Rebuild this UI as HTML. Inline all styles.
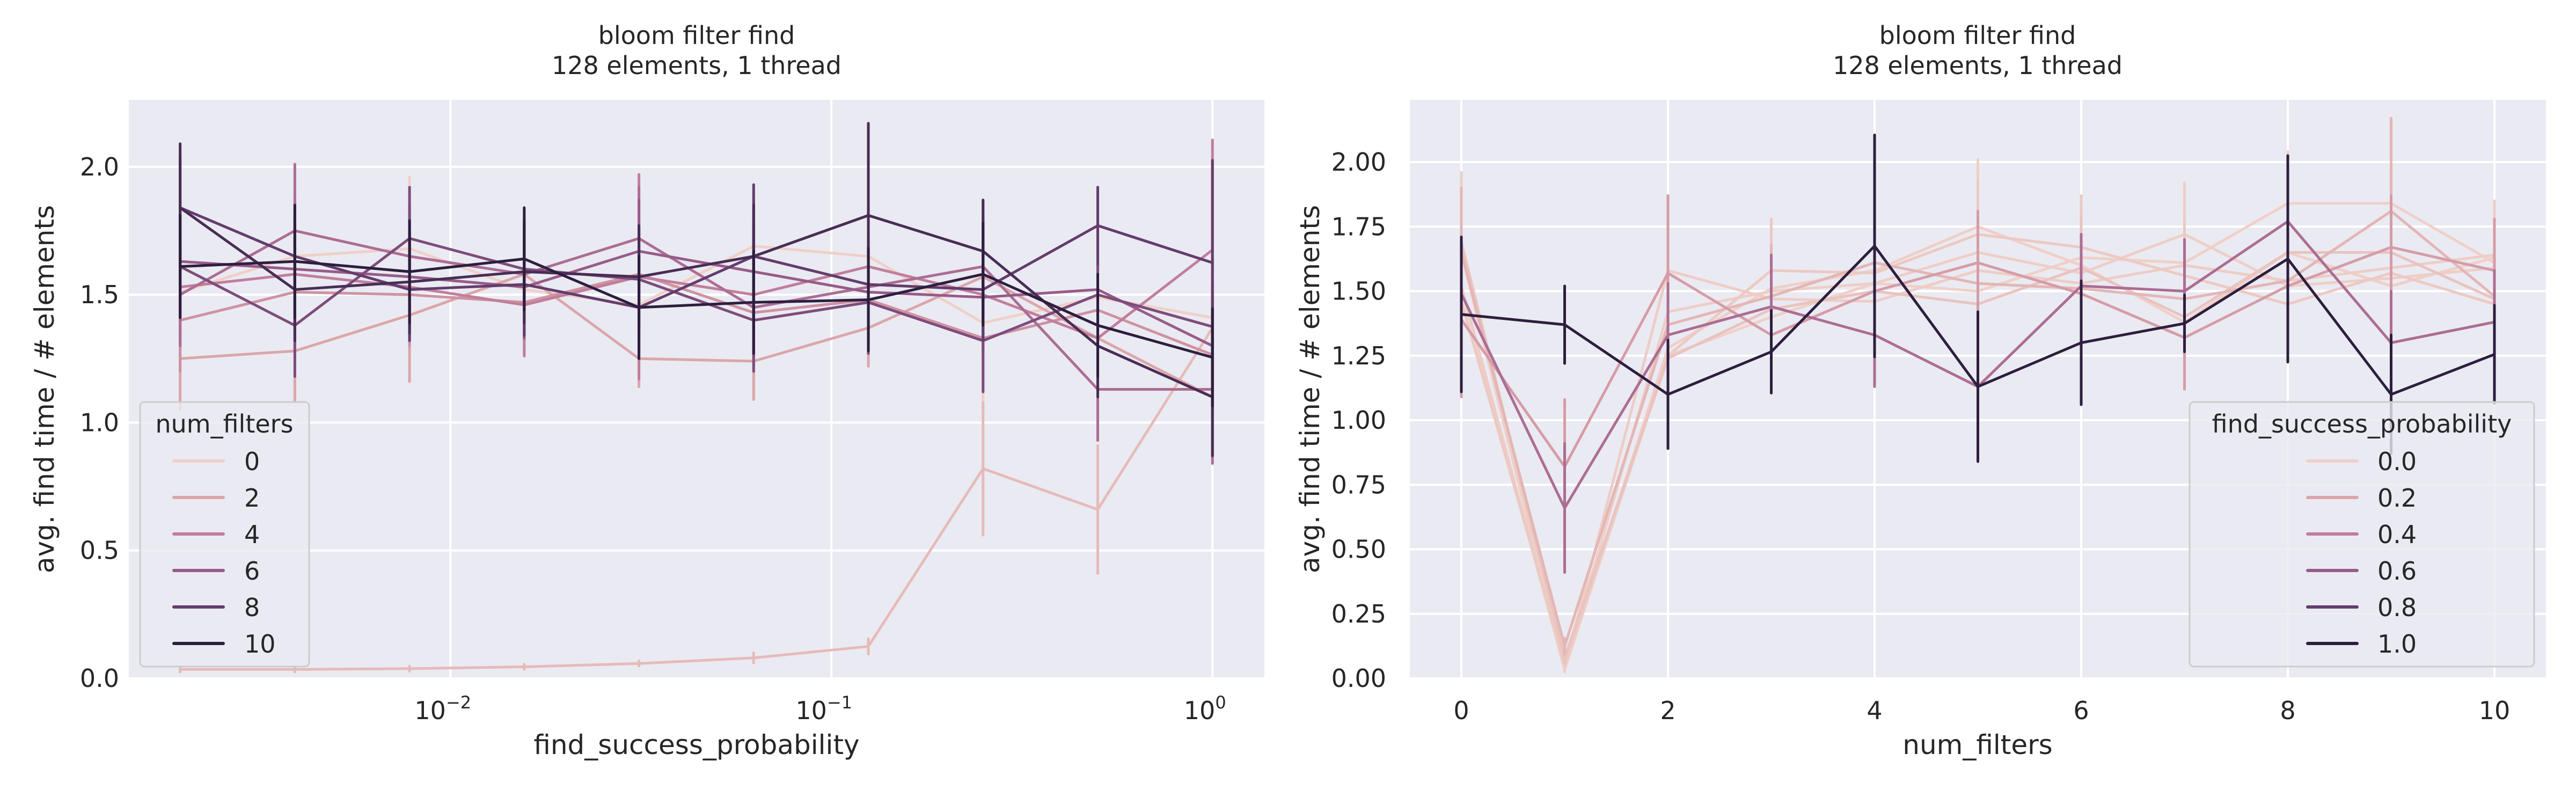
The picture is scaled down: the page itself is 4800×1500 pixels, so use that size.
<!DOCTYPE html>
<html><head><meta charset="utf-8">
<style>
html,body{margin:0;padding:0;background:#fff;}
svg{display:block;font-family:"DejaVu Sans","Liberation Sans",sans-serif;}
</style></head>
<body>
<svg id="fig" xmlns="http://www.w3.org/2000/svg" width="4800" height="1500" viewBox="0 0 4800 1500"></svg>
<script>
// ---- data: rows = num_filters 0..10, columns = find_success_probability 2^-9 .. 2^0
const numFilters = [0,1,2,3,4,5,6,7,8,9,10];
const probabilities = [1/512,1/256,1/128,1/64,1/32,1/16,1/8,1/4,1/2,1];
const probLegend = ["0.0","0.2","0.4","0.6","0.8","1.0"];
const nfLegend = ["0","2","4","6","8","10"];
const series0 = [1.51,1.65,1.68,1.52,1.46,1.69,1.65,1.39,1.49,1.41];
const series1 = [0.035,0.035,0.038,0.045,0.058,0.08,0.125,0.82,0.66,1.37];
const series2 = [1.25,1.28,1.42,1.58,1.25,1.24,1.37,1.57,1.33,1.10];
const series3 = [1.40,1.51,1.50,1.47,1.58,1.43,1.48,1.33,1.44,1.265];
const series4 = [1.53,1.58,1.53,1.46,1.57,1.50,1.61,1.50,1.33,1.675];
const series5 = [1.50,1.75,1.65,1.58,1.72,1.45,1.53,1.61,1.13,1.13];
const series6 = [1.63,1.60,1.57,1.53,1.67,1.59,1.51,1.49,1.52,1.30];
const series7 = [1.61,1.38,1.72,1.60,1.56,1.40,1.47,1.32,1.50,1.375];
const series8 = [1.84,1.65,1.52,1.54,1.45,1.65,1.54,1.52,1.77,1.625];
const series9 = [1.84,1.52,1.55,1.59,1.57,1.65,1.81,1.67,1.30,1.10];
const series10 = [1.61,1.63,1.59,1.64,1.45,1.47,1.48,1.58,1.38,1.255];
const err0 = [0.25,0.2,0.28,0.2,0.2,0.2,0.25,0.3,0.2,0.3];
const err1 = [0.01,0.01,0.01,0.01,0.01,0.02,0.03,0.26,0.25,0.15];
const err2 = [0.2,0.2,0.26,0.2,0.11,0.15,0.15,0.3,0.2,0.21];
const err3 = [0.2,0.2,0.2,0.2,0.2,0.2,0.2,0.2,0.2,0.16];
const err4 = [0.2,0.3,0.2,0.2,0.4,0.2,0.25,0.2,0.2,0.43];
const err5 = [0.2,0.26,0.2,0.2,0.2,0.2,0.2,0.2,0.2,0.29];
const err6 = [0.2,0.2,0.2,0.2,0.2,0.2,0.2,0.2,0.2,0.24];
const err7 = [0.2,0.2,0.2,0.2,0.2,0.2,0.2,0.2,0.2,0.11];
const err8 = [0.2,0.2,0.2,0.2,0.2,0.28,0.2,0.2,0.15,0.40];
const err9 = [0.25,0.2,0.2,0.2,0.2,0.2,0.36,0.2,0.2,0.23];
const err10 = [0.2,0.22,0.2,0.2,0.2,0.2,0.2,0.2,0.2,0.19];
const values = [series0,series1,series2,series3,series4,series5,series6,series7,series8,series9,series10];
const errors = [err0,err1,err2,err3,err4,err5,err6,err7,err8,err9,err10];
const yTicksLeft = [0,0.5,1.0,1.5,2.0];
const yTicksRight = [0,0.25,0.5,0.75,1.0,1.25,1.5,1.75,2.0];
const xTicksRight = [0,2,4,6,8,10];
const xTicksLeftExp = [-2,-1,0];

const NS="http://www.w3.org/2000/svg";
const svg=document.getElementById('fig');
function el(tag,attrs,parent){const e=document.createElementNS(NS,tag);for(const k in attrs)e.setAttribute(k,attrs[k]);(parent||svg).appendChild(e);return e;}
const stops=[[0xef,0xd0,0xc8],[0xdb,0xa6,0xaa],[0xc1,0x7e,0x9c],[0x97,0x5b,0x89],[0x63,0x3c,0x6c],[0x2d,0x1e,0x3e]];
function cmap(t){t=Math.max(0,Math.min(1,t))*5;const i=Math.min(4,Math.floor(t)),f=t-i;const a=stops[i],b=stops[i+1];
 return 'rgb('+a.map((v,k)=>Math.round(v+(b[k]-v)*f)).join(',')+')';}

// ---- axes geometry
const L={x0:240,x1:2356,y0:186,y1:1264};
const R={x0:2627,x1:4744,y0:186,y1:1264};
const lx=p=>240+(Math.log10(p)+2.844)*710;
const ly=v=>1264-v*476.6;
const rx=n=>2723+n*192.5;
const ry=v=>1264-v*481;

function axes(A,name){
 const g=el('g',{});
 
 
 el('rect',{x:A.x0,y:A.y0,width:A.x1-A.x0,height:A.y1-A.y0,fill:'#eaeaf2'},g);
 return g;
}
function text(g,x,y,s,size,anchor,name,extra){
 const t=el('text',Object.assign({x:x,y:y,'font-size':size,fill:'#262626','text-anchor':anchor||'middle'},extra||{}),g);
 t.textContent=s;
 
 
 return t;
}

// ===== LEFT =====
const gl=axes(L,'left-plot');
const glg=el('g',{},gl);


yTicksLeft.forEach(v=>{el('line',{x1:L.x0,x2:L.x1,y1:ly(v),y2:ly(v),stroke:'#fff','stroke-width':4},glg);
 text(gl,222,ly(v)+16,v.toFixed(1),46,'end','left-y-tick-label');});
xTicksLeftExp.forEach(e=>{const x=lx(Math.pow(10,e));el('line',{x1:x,x2:x,y1:L.y0,y2:L.y1,stroke:'#fff','stroke-width':4},glg);
 const t=text(gl,x-14,1340,'10',46,'middle','left-x-tick-label');
 const s=el('tspan',{dy:-20,'font-size':32},t);s.textContent=(e<0?'\u2212':'')+Math.abs(e);});
const lclip=el('clipPath',{id:'lc'});el('rect',{x:L.x0,y:L.y0,width:L.x1-L.x0,height:L.y1-L.y0},lclip);
const ld=el('g',{'clip-path':'url(#lc)'},gl);
numFilters.forEach((n,i)=>{
 const c=cmap(n/10);
 const sg=el('g',{},ld);
 
 
 el('polyline',{points:probabilities.map((p,j)=>lx(p)+','+ly(values[i][j])).join(' '),fill:'none',stroke:c,'stroke-width':5,'stroke-linejoin':'round','stroke-linecap':'round'},sg);
 probabilities.forEach((p,j)=>{const e=errors[i][j];
  const b=el('line',{x1:lx(p),x2:lx(p),y1:ly(values[i][j]-e),y2:ly(values[i][j]+e),stroke:c,'stroke-width':5,'stroke-linecap':'round'},sg);
  
  });
});
text(gl,1298,82,'bloom filter find',46,'middle','left-title-line1');
text(gl,1298,138,'128 elements, 1 thread',46,'middle','left-title-line2');
text(gl,1298,1405,'find_success_probability',50,'middle','left-x-axis-title');
text(gl,0,0,'avg. find time / # elements',50,'middle','left-y-axis-title',{transform:'translate(100,725) rotate(-90)'});
// legend left
const lleg=el('g',{},gl);


el('rect',{x:261,y:749,width:315,height:493,rx:8,fill:'#eaeaf2','fill-opacity':0.8,stroke:'#cccccc','stroke-width':3},lleg);
text(lleg,418,806,'num_filters',46,'middle','left-legend-title');
nfLegend.forEach((s,k)=>{const y=859+k*68;
 el('line',{x1:324,x2:416,y1:y,y2:y,stroke:cmap(+s/10),'stroke-width':6,'stroke-linecap':'round'},lleg);
 text(lleg,455,y+17,s,46,'start','left-legend-entry');});

// ===== RIGHT =====
const gr=axes(R,'right-plot');
const grg=el('g',{},gr);


yTicksRight.forEach(v=>{el('line',{x1:R.x0,x2:R.x1,y1:ry(v),y2:ry(v),stroke:'#fff','stroke-width':4},grg);
 text(gr,2583,ry(v)+16,v.toFixed(2),46,'end','right-y-tick-label');});
xTicksRight.forEach(v=>{el('line',{x1:rx(v),x2:rx(v),y1:R.y0,y2:R.y1,stroke:'#fff','stroke-width':4},grg);
 text(gr,rx(v),1340,String(v),46,'middle','right-x-tick-label');});
const rclip=el('clipPath',{id:'rc'});el('rect',{x:R.x0,y:R.y0,width:R.x1-R.x0,height:R.y1-R.y0},rclip);
const rd=el('g',{'clip-path':'url(#rc)'},gr);
probabilities.forEach((p,j)=>{
 const c=cmap(p);
 const sg=el('g',{},rd);
 
 
 el('polyline',{points:numFilters.map((n,i)=>rx(n)+','+ry(values[i][j])).join(' '),fill:'none',stroke:c,'stroke-width':5,'stroke-linejoin':'round','stroke-linecap':'round'},sg);
 numFilters.forEach((n,i)=>{const e=errors[i][j];
  const b=el('line',{x1:rx(n),x2:rx(n),y1:ry(values[i][j]-e),y2:ry(values[i][j]+e),stroke:c,'stroke-width':5,'stroke-linecap':'round'},sg);
  
  });
});
text(gr,3685,82,'bloom filter find',46,'middle','right-title-line1');
text(gr,3685,138,'128 elements, 1 thread',46,'middle','right-title-line2');
text(gr,3685,1405,'num_filters',50,'middle','right-x-axis-title');
text(gr,0,0,'avg. find time / # elements',50,'middle','right-y-axis-title',{transform:'translate(2458,725) rotate(-90)'});
const rleg=el('g',{},gr);


el('rect',{x:4080,y:749,width:642,height:493,rx:8,fill:'#eaeaf2','fill-opacity':0.8,stroke:'#cccccc','stroke-width':3},rleg);
text(rleg,4401,806,'find_success_probability',46,'middle','right-legend-title');
probLegend.forEach((s,k)=>{const y=859+k*68;
 el('line',{x1:4300,x2:4392,y1:y,y2:y,stroke:cmap(+s),'stroke-width':6,'stroke-linecap':'round'},rleg);
 text(rleg,4430,y+17,s,46,'start','right-legend-entry');});
</script>
</body></html>
